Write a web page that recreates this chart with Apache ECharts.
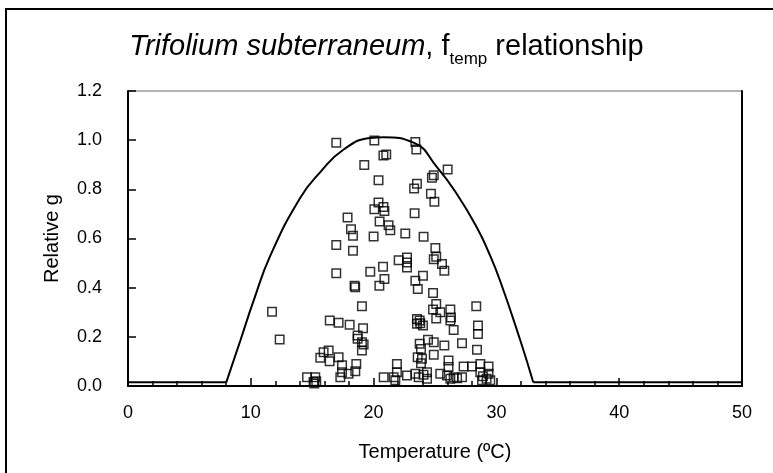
<!DOCTYPE html>
<html>
<head>
<meta charset="utf-8">
<script src="https://cdn.jsdelivr.net/npm/echarts@6/dist/echarts.min.js"></script>
<style>
  html, body { margin: 0; padding: 0; background: #fff; }
  #chart { width: 773px; height: 473px; }
</style>
</head>
<body>
<div id="chart"></div>
<script>
// x axis ticks (temperature, degC) and y axis ticks (relative g)
const xTicks = [0, 10, 20, 30, 40, 50];
const yTicks = [0, 0.2, 0.4, 0.6, 0.8, 1.0, 1.2];

// f_temp curve, split so the corners stay sharp
const baseLeft = [[0, 0.015], [8.0, 0.015]];
const baseRight = [[33.0, 0.015], [50, 0.015]];
const fTempCurve = [
  [8.0, 0.015], [9.15, 0.185], [10.23, 0.347], [11.59, 0.53], [14.03, 0.766],
  [15.66, 0.87], [17.56, 0.962], [19.73, 1.009], [20.8, 1.012], [23.26, 0.99],
  [25.16, 0.89], [26.79, 0.78], [28.42, 0.644], [29.36, 0.545], [30.3, 0.428],
  [31.95, 0.185], [33.0, 0.015]
];

// observed points (temperature, relative g)
const obsUpper = [
  [16.96, 0.989], [20.06, 0.999], [23.4, 0.993], [23.48, 0.962], [20.8, 0.938],
  [21.03, 0.942], [19.24, 0.899], [26.03, 0.881], [24.9, 0.857], [24.75, 0.847],
  [20.4, 0.837], [23.53, 0.823], [23.3, 0.803], [24.67, 0.782], [24.95, 0.749],
  [20.4, 0.746], [20.06, 0.719], [20.8, 0.728], [20.88, 0.712], [23.34, 0.703],
  [17.88, 0.685], [20.49, 0.669], [21.22, 0.654], [21.36, 0.634], [18.16, 0.638],
  [22.58, 0.62], [18.32, 0.611], [20.0, 0.608], [24.07, 0.607], [16.96, 0.574],
  [25.03, 0.561], [18.32, 0.55]
];
const obsMiddle = [
  [22.04, 0.512], [22.72, 0.523], [22.72, 0.502], [22.72, 0.482], [24.9, 0.516],
  [25.1, 0.526], [25.57, 0.496], [25.76, 0.469], [16.96, 0.459], [19.73, 0.465],
  [20.77, 0.485], [20.88, 0.435], [20.47, 0.408], [23.4, 0.428], [23.6, 0.395],
  [24.02, 0.448], [18.45, 0.408], [18.5, 0.402], [24.84, 0.378], [19.05, 0.324],
  [25.1, 0.334], [24.84, 0.311], [25.43, 0.3], [25.1, 0.275], [26.25, 0.311],
  [26.3, 0.279], [26.25, 0.266], [28.36, 0.324], [11.73, 0.302], [12.35, 0.189]
];
const obsLower = [
  [16.43, 0.266], [17.15, 0.257], [18.05, 0.249], [19.14, 0.235], [18.7, 0.205],
  [18.7, 0.192], [19.05, 0.178], [19.19, 0.169], [19.05, 0.144], [23.75, 0.266],
  [23.8, 0.255], [24.02, 0.246], [23.53, 0.273], [23.53, 0.253], [26.52, 0.228],
  [28.5, 0.246], [28.5, 0.212], [27.2, 0.174], [28.42, 0.147], [24.43, 0.188],
  [24.9, 0.178], [25.76, 0.165], [24.9, 0.127], [23.75, 0.172], [23.86, 0.151],
  [23.59, 0.117], [23.94, 0.111], [23.86, 0.093], [15.93, 0.137], [16.34, 0.144],
  [15.66, 0.115], [16.42, 0.101], [17.15, 0.117], [17.43, 0.084], [17.43, 0.056],
  [17.29, 0.036], [17.96, 0.05], [18.59, 0.09], [18.51, 0.06], [14.58, 0.036],
  [15.25, 0.036], [15.11, 0.016], [15.33, 0.019], [15.17, 0.01], [21.9, 0.09],
  [21.9, 0.056], [21.63, 0.036], [21.77, 0.023], [20.82, 0.036], [22.72, 0.043],
  [23.4, 0.05], [23.67, 0.036], [24.35, 0.056], [24.35, 0.03], [26.1, 0.104],
  [26.1, 0.077], [25.43, 0.05], [25.98, 0.043], [26.52, 0.036], [27.2, 0.036],
  [27.33, 0.079], [28.01, 0.079], [28.69, 0.09], [29.36, 0.079], [28.69, 0.056],
  [29.36, 0.05], [28.83, 0.023], [29.5, 0.023], [24.07, 0.046], [26.25, 0.03],
  [26.8, 0.032], [28.9, 0.04], [29.2, 0.03]
];

const observed = obsUpper.concat(obsMiddle, obsLower);
const labelFont = "'Liberation Sans', Arial, sans-serif";

const chart = echarts.init(document.getElementById("chart"), null, { renderer: "canvas" });

const lineStyle = { color: "#000", width: 2 };

const option = {
  backgroundColor: "#fff",
  animation: false,
  title: {
    left: "center",
    top: 22,
    text: "{i|Trifolium subterraneum}{n|, f}{s|temp}{n| relationship}",
    textStyle: {
      rich: {
        i: { fontFamily: labelFont, fontSize: 29, fontStyle: "italic", fontWeight: "normal", color: "#000", lineHeight: 34, verticalAlign: "bottom" },
        n: { fontFamily: labelFont, fontSize: 29, fontWeight: "normal", color: "#000", lineHeight: 34, verticalAlign: "bottom" },
        s: { fontFamily: labelFont, fontSize: 17, fontWeight: "normal", color: "#000", lineHeight: 34, verticalAlign: "bottom", padding: [0, 0, -7, 0] },
      },
    },
  },
  graphic: [
    {
      type: "rect",
      shape: { x: 6, y: 9, width: 800, height: 500 },
      style: { fill: "none", stroke: "#000", lineWidth: 2 },
      silent: true,
    },
  ],
  grid: {
    left: 128,
    right: 31,
    top: 91,
    bottom: 87,
    show: true,
    borderColor: "#666",
    borderWidth: 1,
  },
  xAxis: {
    type: "value",
    min: xTicks[0],
    max: xTicks[xTicks.length - 1],
    interval: 10,
    name: "Temperature (ºC)",
    nameLocation: "middle",
    nameGap: 56,
    nameTextStyle: { fontFamily: labelFont, fontSize: 20, color: "#000" },
    axisLine: { lineStyle: { color: "#000", width: 2 } },
    axisTick: { inside: true, length: 8, lineStyle: { color: "#000", width: 1.5 } },
    minorTick: { show: true, splitNumber: 5, length: 5, lineStyle: { color: "#000", width: 1.5 } },
    axisLabel: { fontFamily: labelFont, fontSize: 18, color: "#000", margin: 18 },
    splitLine: { show: false },
  },
  yAxis: [
    {
      type: "value",
      min: yTicks[0],
      max: yTicks[yTicks.length - 1],
      interval: 0.2,
      name: "Relative g",
      nameLocation: "middle",
      nameGap: 66,
      nameTextStyle: { fontFamily: labelFont, fontSize: 20, color: "#000" },
      axisLine: { show: true, lineStyle: { color: "#000", width: 2 } },
      axisTick: { show: true, inside: true, length: 8, lineStyle: { color: "#000", width: 1.5 } },
      axisLabel: {
        fontFamily: labelFont,
        fontSize: 18,
        color: "#000",
        margin: 26,
        formatter: (v) => v.toFixed(1),
      },
      splitLine: { show: false },
    },
    {
      type: "value",
      position: "right",
      min: yTicks[0],
      max: yTicks[yTicks.length - 1],
      axisLine: { show: true, lineStyle: { color: "#000", width: 2 } },
      axisTick: { show: false },
      axisLabel: { show: false },
      splitLine: { show: false },
    },
  ],
  series: [
    {
      type: "line",
      data: baseLeft,
      showSymbol: false,
      lineStyle: lineStyle,
      z: 3,
    },
    {
      type: "line",
      data: fTempCurve,
      smooth: 0.5,
      showSymbol: false,
      lineStyle: lineStyle,
      z: 3,
    },
    {
      type: "line",
      data: baseRight,
      showSymbol: false,
      lineStyle: lineStyle,
      z: 3,
    },
    {
      type: "scatter",
      data: observed,
      symbol: "rect",
      symbolSize: 8.5,
      itemStyle: { color: "rgba(0,0,0,0)", borderColor: "#000", borderWidth: 1.5 },
      z: 4,
    },
  ],
};

chart.setOption(option);
</script>
</body>
</html>
